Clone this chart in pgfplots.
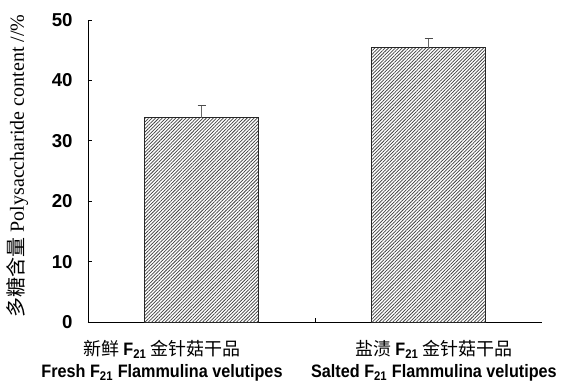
\documentclass[border=0pt]{standalone}
\usepackage{fontspec}
\setmainfont{Liberation Serif}
\setsansfont{Liberation Sans}
\newfontfamily\cjk{Noto Sans CJK SC}[BoldFont={Noto Sans CJK SC}]
\newfontfamily\nb{Liberation Sans Bold}[FakeStretch=0.9]
\newfontfamily\tb{Liberation Sans Bold}
\usepackage{pgfplots}
\pgfplotsset{compat=1.18}
\usetikzlibrary{patterns,patterns.meta}
\newcommand{\F}{{\nb F\textsubscript{21}}}
\begin{document}
\begin{tikzpicture}
\path[use as bounding box] (-66pt,-50.25pt) rectangle (360pt,241.5pt);
\begin{axis}[
  at={(0,0)}, anchor=south west,
  scale only axis, width=340.5pt, height=226.5pt,
  xmin=-0.5, xmax=1.5, ymin=0, ymax=50,
  axis x line*=bottom, axis y line*=left,
  axis line style={black, line width=0.6pt},
  ytick={0,10,...,50},
  xtick={0.5}, xticklabels={},
  extra x ticks={-0.174,1.024},
  extra x tick style={major tick length=0pt},
  extra x tick labels={{\fontsize{13.5}{15}\selectfont\cjk 新鲜 }\F{\fontsize{13.5}{15}\selectfont\cjk\ 金针菇干品}\\[2pt]{\nb Fresh F\textsubscript{21} Flammulina velutipes},{\fontsize{13.5}{15}\selectfont\cjk 盐渍 }\F{\fontsize{13.5}{15}\selectfont\cjk\ 金针菇干品}\\[2pt]{\nb Salted F\textsubscript{21} Flammulina velutipes}},
  extra x tick style={tick label style={align=center, font=\fontsize{13.5}{15}\selectfont, yshift=-10pt}},
  tick align=inside, major tick length=3pt,
  tick style={black, line width=0.5pt},
  yticklabel style={font=\tb\fontsize{14}{15}\selectfont, xshift=-8pt},
  /pgf/number format/assume math mode=true,
  ylabel={{\cjk 多糖含量} Polysaccharide content /{}/\%},
  ylabel style={font=\fontsize{15}{16}\selectfont, anchor=center, at={(axis description cs:-0.155,0.517)}},
  clip=false,
]
\addplot[ybar, bar width=0.5, draw=black!85, line width=0.6pt,
  pattern={Lines[angle=45, distance=1.8pt, line width=0.55pt]}, pattern color=black!75,
  error bars/.cd, y dir=plus, y explicit,
  error bar style={black!60, line width=1pt},
  error mark options={black!70, line width=0.8pt, mark size=3pt, rotate=90}]
  coordinates {(0,33.8) +- (0,2.0) (1,45.4) +- (0,1.6)};
\end{axis}
\end{tikzpicture}
\end{document}
